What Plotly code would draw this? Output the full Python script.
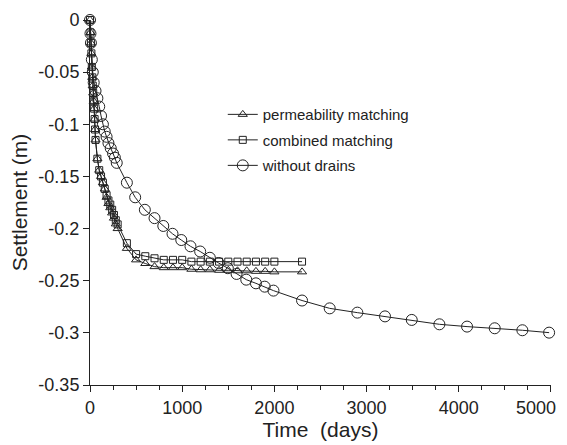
import plotly.graph_objects as go

# permeability matching (triangles)
perm_t = [0, 5, 10, 15, 20, 25, 30, 35, 40, 45, 50, 55, 60, 80, 100, 120, 140, 160, 180, 200, 220, 240, 260, 280, 300,
          400, 500, 600, 700, 800, 900, 1000, 1100, 1200, 1300, 1400, 1500, 1600, 1700, 1800, 1900, 2000, 2300]
perm_y = [0, -0.012, -0.022, -0.032, -0.045, -0.055, -0.063, -0.07, -0.078, -0.085, -0.095, -0.105, -0.115,
          -0.133, -0.144, -0.150, -0.156, -0.162, -0.170, -0.176, -0.180, -0.185, -0.190, -0.1955, -0.200,
          -0.219, -0.230, -0.2335, -0.2365, -0.2375, -0.2375, -0.2375, -0.239, -0.2395, -0.2395, -0.240, -0.240,
          -0.2405, -0.2405, -0.241, -0.241, -0.2415, -0.2415]

# combined matching (squares)
comb_t = [0, 5, 10, 15, 20, 25, 30, 35, 40, 45, 50, 55, 60, 80, 100, 120, 140, 160, 180, 200, 220, 240, 260, 280, 300,
          400, 500, 600, 700, 800, 900, 1000, 1100, 1200, 1300, 1400, 1500, 1600, 1700, 1800, 1900, 2000, 2300]
comb_y = [0, -0.012, -0.022, -0.032, -0.045, -0.055, -0.063, -0.07, -0.078, -0.085, -0.095, -0.105, -0.115,
          -0.133, -0.144, -0.150, -0.156, -0.162, -0.168, -0.173, -0.177, -0.182, -0.187, -0.192, -0.196,
          -0.214, -0.2245, -0.2265, -0.2285, -0.230, -0.230, -0.230, -0.2317, -0.2317, -0.2317, -0.2317, -0.2317,
          -0.2317, -0.2317, -0.2317, -0.2317, -0.2317, -0.2317]

# without drains (circles)
nodr_t = [0, 5, 10, 20, 30, 40, 60, 80, 100, 120, 140, 160, 180, 200, 225, 250, 270, 290, 400, 490, 595, 700, 795,
          895, 990, 1090, 1195, 1300, 1395, 1495, 1590, 1695, 1800, 1895, 1990, 2300, 2600, 2900, 3200, 3490, 3790,
          4090, 4390, 4690, 4980]
nodr_y = [0, -0.013, -0.022, -0.038, -0.05, -0.06, -0.068, -0.075, -0.083, -0.092, -0.100, -0.107, -0.112, -0.118,
          -0.123, -0.128, -0.132, -0.137, -0.156, -0.170, -0.182, -0.190, -0.1975, -0.205, -0.211, -0.217, -0.222,
          -0.228, -0.233, -0.238, -0.2435, -0.249, -0.2525, -0.2557, -0.2595, -0.269, -0.2765, -0.2806, -0.2842,
          -0.2876, -0.2918, -0.294, -0.2956, -0.2975, -0.2998]

x_ticks = [0, 1000, 2000, 3000, 4000, 5000]
x_labels = ["0", "1000", "2000", "3000", "4000", "5000" + "\u00a0" * 6]
y_ticks = [0, -0.05, -0.1, -0.15, -0.2, -0.25, -0.3, -0.35]

INK = "#222222"
FONT = "Arial, Liberation Sans, sans-serif"

fig = go.Figure()
series = [
    ("permeability matching", perm_t, perm_y, "triangle-up-open", 8),
    ("combined matching", comb_t, comb_y, "square-open", 7),
    ("without drains", nodr_t, nodr_y, "circle-open", 11),
]
for i, (name, t, y, sym, sz) in enumerate(series):
    fig.add_trace(go.Scatter(
        x=t, y=y, name=name, mode="lines+markers",
        line=dict(color=INK, width=1),
        marker=dict(symbol=sym, size=sz, color=INK, line=dict(color=INK, width=1)),
        legendgroup=f"g{i}", cliponaxis=False,
    ))

# page body adds an 8px offset, so the figure is sized to fit the window
fig.update_layout(
    width=559, height=437,
    margin=dict(l=82, r=16, t=12, b=60),
    paper_bgcolor="white", plot_bgcolor="white",
    font=dict(family=FONT, size=18, color=INK),
    showlegend=True,
    legend=dict(x=0.288, y=0.786, xanchor="left", yanchor="top",
                font=dict(size=15, color=INK), bgcolor="rgba(0,0,0,0)",
                traceorder="grouped", tracegroupgap=3),
    xaxis=dict(range=[0, 5000.5], tickvals=x_ticks, ticktext=x_labels,
               ticks="outside", ticklen=6, tickcolor=INK,
               showline=True, linecolor=INK, linewidth=1, showgrid=False, zeroline=False,
               minor=dict(tickvals=list(range(250, 5000, 250)), ticks="outside", ticklen=4, tickcolor=INK),
               title=dict(text="Time  (days)", font=dict(size=21), standoff=4),
               tickfont=dict(size=18), automargin=False, ticklabeloverflow="allow"),
    yaxis=dict(range=[-0.35, 0], tickvals=y_ticks, ticktext=[str(v) for v in y_ticks],
               ticks="outside", ticklen=6, tickcolor=INK,
               showline=True, linecolor=INK, linewidth=1, showgrid=False, zeroline=False,
               title=dict(text="Settlement (m)", font=dict(size=21), standoff=6),
               tickfont=dict(size=18), automargin=False),
)

fig.write_html("out.html")
